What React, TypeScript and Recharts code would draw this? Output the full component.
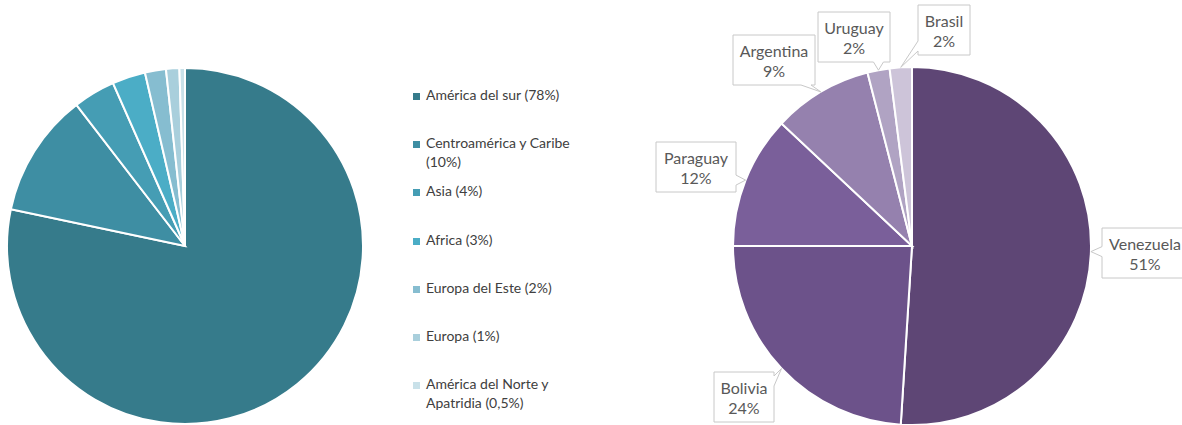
import { PieChart, Pie, Cell } from 'recharts'

// left pie: origin of population by region
const REGION_NAMES = [
    'América del sur',
    'Centroamérica y Caribe',
    'Asia',
    'Africa',
    'Europa del Este',
    'Europa',
    'América del Norte y Apatridia',
]
const REGION_LEGEND = [
    'América del sur (78%)',
    'Centroamérica y Caribe (10%)',
    'Asia (4%)',
    'Africa (3%)',
    'Europa del Este (2%)',
    'Europa (1%)',
    'América del Norte y Apatridia (0,5%)',
]
const REGION_VALUES = [78, 11.2, 3.8, 3, 1.9, 1.2, 0.5]
const REGION_COLORS = ['#367b8b', '#3e8ea3', '#459db4', '#4badc6', '#86bdd0', '#a9cfdc', '#c9e1e9']

// right pie: South American countries
const COUNTRY_NAMES = ['Venezuela', 'Bolivia', 'Paraguay', 'Argentina', 'Uruguay', 'Brasil']
const COUNTRY_VALUES = [51, 24, 12, 9, 2, 2]
const COUNTRY_COLORS = ['#5e4675', '#6c528a', '#7a5f9a', '#9581ae', '#b0a3c3', '#cdc4d9']

// callout boxes: centre offset from pie centre, box width
const CALLOUTS = [
    { dx: 233, dy: 7, w: 86 },
    { dx: -168, dy: 151, w: 60 },
    { dx: -216, dy: -79, w: 80 },
    { dx: -138, dy: -186, w: 82 },
    { dx: -58, dy: -209, w: 72 },
    { dx: 32, dy: -216, w: 52 },
]

const regionData = REGION_NAMES.map((name, i) => ({ name, value: REGION_VALUES[i] }))
const countryData = COUNTRY_NAMES.map((name, i) => ({ name, value: COUNTRY_VALUES[i] }))

const RADIAN = Math.PI / 180
const FONT = 'Lato, "Open Sans", sans-serif'

function calloutPath(x: number, y: number, w: number, h: number, ax: number, ay: number) {
    const r = x + w
    const b = y + h
    const ox = ax < x ? x - ax : ax > r ? ax - r : 0
    const oy = ay < y ? y - ay : ay > b ? ay - b : 0
    let edge: string
    if (ox >= oy) edge = ax < x ? 'left' : 'right'
    else edge = ay < y ? 'top' : 'bottom'
    const clamp = (v: number, lo: number, hi: number) => Math.max(lo, Math.min(hi, v))
    const pw = 10
    let d = `M${x},${y}`
    if (edge === 'top') {
        const p = clamp(ax - pw / 2, x + 4, r - 4 - pw)
        d += ` L${p},${y} L${ax},${ay} L${p + pw},${y}`
    }
    d += ` L${r},${y}`
    if (edge === 'right') {
        const p = clamp(ay - pw / 2, y + 4, b - 4 - pw)
        d += ` L${r},${p} L${ax},${ay} L${r},${p + pw}`
    }
    d += ` L${r},${b}`
    if (edge === 'bottom') {
        const p = clamp(ax + pw / 2, x + 4 + pw, r - 4)
        d += ` L${p},${b} L${ax},${ay} L${p - pw},${b}`
    }
    d += ` L${x},${b}`
    if (edge === 'left') {
        const p = clamp(ay + pw / 2, y + 4 + pw, b - 4)
        d += ` L${x},${p} L${ax},${ay} L${x},${p - pw}`
    }
    return d + ' Z'
}

const renderCallout = (props: any) => {
    const { cx, cy, midAngle, outerRadius, index, name, value } = props
    const c = CALLOUTS[index]
    const ax = cx + outerRadius * Math.cos(-midAngle * RADIAN)
    const ay = cy + outerRadius * Math.sin(-midAngle * RADIAN)
    const h = 50
    const bx = cx + c.dx - c.w / 2
    const by = cy + c.dy - h / 2
    return (
        <g key={`callout-${index}`}>
            <path d={calloutPath(bx, by, c.w, h, ax, ay)} fill="#fff" stroke="#c8c8c8" strokeWidth={1} />
            <text x={cx + c.dx} y={by + 22} textAnchor="middle" fill="#595959" fontSize={16} fontFamily={FONT}>
                {name}
            </text>
            <text x={cx + c.dx} y={by + 42} textAnchor="middle" fill="#595959" fontSize={16} fontFamily={FONT}>
                {value}%
            </text>
        </g>
    )
}

function RegionLegend() {
    return (
        <div
            style={{
                position: 'absolute',
                left: 413,
                top: 86,
                width: 180,
                fontFamily: FONT,
                fontSize: 14,
                color: '#404040',
            }}
        >
            {REGION_LEGEND.map((label, i) => (
                <div key={label} style={{ height: 48.2, display: 'flex', alignItems: 'flex-start' }}>
                    <span
                        style={{
                            width: 7,
                            height: 7,
                            marginTop: 7,
                            marginRight: 6,
                            flex: 'none',
                            background: REGION_COLORS[i],
                        }}
                    />
                    <span style={{ width: 155, lineHeight: '18.5px' }}>{label}</span>
                </div>
            ))}
        </div>
    )
}

export default function App() {
    return (
        <div style={{ position: 'absolute', left: 0, top: 0, width: 1182, height: 425, background: '#fff' }}>
            <PieChart width={1182} height={425} margin={{ top: 0, right: 0, bottom: 0, left: 0 }}>
                <Pie
                    data={regionData}
                    dataKey="value"
                    nameKey="name"
                    cx={185}
                    cy={246}
                    outerRadius={178}
                    startAngle={90}
                    endAngle={-270}
                    stroke="#fff"
                    strokeWidth={2}
                    isAnimationActive={false}
                >
                    {regionData.map((d, i) => (
                        <Cell key={d.name} fill={REGION_COLORS[i]} />
                    ))}
                </Pie>
                <Pie
                    data={countryData}
                    dataKey="value"
                    nameKey="name"
                    cx={912}
                    cy={246}
                    outerRadius={179}
                    startAngle={90}
                    endAngle={-270}
                    stroke="#fff"
                    strokeWidth={2}
                    label={renderCallout}
                    labelLine={false}
                    isAnimationActive={false}
                >
                    {countryData.map((d, i) => (
                        <Cell key={d.name} fill={COUNTRY_COLORS[i]} />
                    ))}
                </Pie>
            </PieChart>
            <RegionLegend />
        </div>
    )
}
